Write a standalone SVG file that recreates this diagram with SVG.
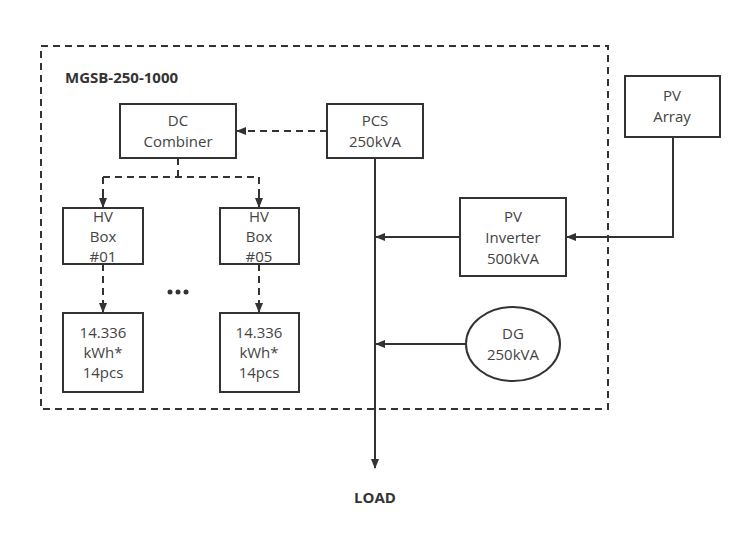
<svg xmlns="http://www.w3.org/2000/svg" width="746" height="544" viewBox="0 0 746 544">
<style>
.b{fill:#fff;stroke:#333;stroke-width:2}
.t{font-family:"Open Sans",sans-serif;font-size:15px;fill:#444;text-anchor:middle}
.l{fill:none;stroke:#333;stroke-width:2}
.d{fill:none;stroke:#333;stroke-width:2;stroke-dasharray:7 5}
</style>
<defs><marker id="a" markerWidth="10" markerHeight="8" refX="9" refY="4" orient="auto" markerUnits="userSpaceOnUse"><path d="M0,0L10,4L0,8z" fill="#333"/></marker></defs>
<rect x="0" y="0" width="746" height="544" fill="#fff"/>
<rect x="41" y="46" width="567" height="363" class="d"/>
<text x="65" y="83" font-family="Open Sans,sans-serif" font-weight="bold" font-size="15" fill="#333">MGSB-250-1000</text>
<g id="connectors">
<path d="M327,131H237" class="d" marker-end="url(#a)"/>
<path d="M178,158V177M103,177H259M103,177V207M259,177V207" class="d"/>
<path d="M103,195V207" class="l" marker-end="url(#a)"/>
<path d="M259,195V207" class="l" marker-end="url(#a)"/>
<path d="M103,264V312M259,264V312" class="d"/>
<path d="M103,300V312" class="l" marker-end="url(#a)"/>
<path d="M259,300V312" class="l" marker-end="url(#a)"/>
<path d="M375,158V468" class="l" marker-end="url(#a)"/>
<path d="M460,237H376" class="l" marker-end="url(#a)"/>
<path d="M466,344H376" class="l" marker-end="url(#a)"/>
<path d="M673,137V237H567" class="l" marker-end="url(#a)"/>
</g>
<g id="dc"><rect x="120" y="104" width="116" height="54" class="b"/><text class="t" x="178" y="126">DC</text><text class="t" x="178" y="147">Combiner</text></g>
<g id="pcs"><rect x="327" y="104" width="96" height="54" class="b"/><text class="t" x="375" y="126">PCS</text><text class="t" x="375" y="147">250kVA</text></g>
<g id="hv1"><rect x="63" y="208" width="80" height="56" class="b"/><text class="t" x="103" y="222">HV</text><text class="t" x="103" y="242">Box</text><text class="t" x="103" y="262">#01</text></g>
<g id="hv5"><rect x="220" y="208" width="79" height="56" class="b"/><text class="t" x="259" y="222">HV</text><text class="t" x="259" y="242">Box</text><text class="t" x="259" y="262">#05</text></g>
<g id="bat1"><rect x="63" y="313" width="80" height="79" class="b"/><text class="t" x="103" y="338">14.336</text><text class="t" x="103" y="358">kWh*</text><text class="t" x="103" y="378">14pcs</text></g>
<g id="bat5"><rect x="220" y="313" width="79" height="79" class="b"/><text class="t" x="259" y="338">14.336</text><text class="t" x="259" y="358">kWh*</text><text class="t" x="259" y="378">14pcs</text></g>
<g id="dots" fill="#333"><circle cx="170" cy="292" r="2.5"/><circle cx="178" cy="292" r="2.5"/><circle cx="186" cy="292" r="2.5"/></g>
<g id="pva"><rect x="625" y="76" width="95" height="61" class="b"/><text class="t" x="672" y="101">PV</text><text class="t" x="672" y="122">Array</text></g>
<g id="inv"><rect x="460" y="198" width="106" height="78" class="b"/><text class="t" x="513" y="222">PV</text><text class="t" x="513" y="243">Inverter</text><text class="t" x="513" y="264">500kVA</text></g>
<g id="dg"><ellipse cx="513" cy="344" rx="47" ry="37" class="b"/><text class="t" x="513" y="339">DG</text><text class="t" x="513" y="360">250kVA</text></g>
<text x="375" y="503" font-family="Open Sans,sans-serif" font-weight="bold" font-size="15" fill="#333" text-anchor="middle">LOAD</text>
</svg>
